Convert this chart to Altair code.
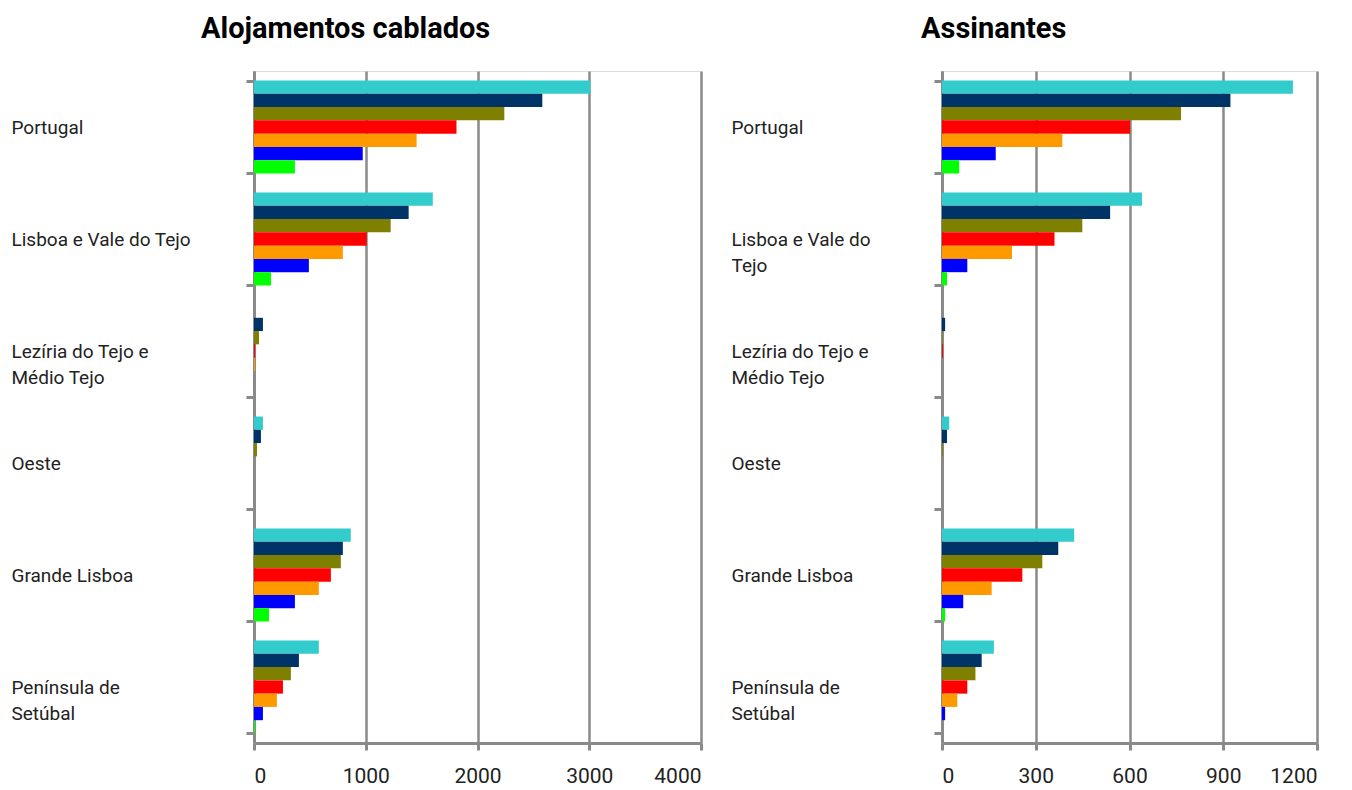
import altair as alt
import pandas as pd

# Categories (regions) and their displayed labels ("|" = line break)
categories = ["Portugal", "Lisboa e Vale do Tejo", "Lezíria do Tejo e Médio Tejo",
              "Oeste", "Grande Lisboa", "Península de Setúbal"]
left_labels = ["Portugal", "Lisboa e Vale do Tejo", "Lezíria do Tejo e|Médio  Tejo",
               "Oeste", "Grande Lisboa", "Península de|Setúbal"]
right_labels = ["Portugal", "Lisboa e Vale do|Tejo", "Lezíria do Tejo e|Médio Tejo",
                "Oeste", "Grande Lisboa", "Península de|Setúbal"]

# Series (top to bottom within each group)
series = ["Série 1", "Série 2", "Série 3", "Série 4", "Série 5", "Série 6", "Série 7"]
colors = ["#33CCCC", "#003366", "#808000", "#FF0000", "#FF9900", "#0000FF", "#00FF00"]

# Alojamentos cablados (one list per series, in category order)
aloj_s1 = [3010, 1600, 0, 80, 866, 580]
aloj_s2 = [2580, 1384, 80, 62, 795, 402]
aloj_s3 = [2240, 1223, 45, 27, 777, 330]
aloj_s4 = [1812, 1009, 10, 0, 688, 259]
aloj_s5 = [1455, 795, 10, 0, 580, 205]
aloj_s6 = [973, 491, 0, 0, 366, 80]
aloj_s7 = [366, 152, 0, 0, 134, 10]

# Assinantes
assi_s1 = [1123, 640, 0, 23, 423, 166]
assi_s2 = [923, 538, 10, 16, 372, 127]
assi_s3 = [765, 449, 2, 3, 321, 107]
assi_s4 = [602, 360, 3, 0, 257, 81]
assi_s5 = [385, 224, 0, 0, 159, 49]
assi_s6 = [172, 81, 0, 0, 68, 10]
assi_s7 = [55, 16, 0, 0, 10, 0]

left_ticks = [0, 1000, 2000, 3000, 4000]
right_ticks = [0, 300, 600, 900, 1200]

GRAY = "#8a8a8a"
LABEL_FONT = "Roboto"
PLOT_H = 672


def make_frame(labels, series_values):
    rows = []
    for s, vals in zip(series, series_values):
        for lab, cat, v in zip(labels, categories, vals):
            rows.append({"label": lab, "region": cat, "series": s, "value": v})
    return pd.DataFrame(rows)


def panel(labels, series_values, xmax, ticks, title, label_extent, width):
    df = make_frame(labels, series_values)
    return alt.Chart(df).mark_bar(cornerRadius=0).encode(
        y=alt.Y("label:N", sort=labels,
                scale=alt.Scale(paddingInner=0.17, paddingOuter=0.085),
                axis=alt.Axis(title=None, labelExpr="split(datum.label, '|')",
                              labelAlign="left", labelBaseline="middle",
                              labelPadding=label_extent - 8, tickSize=8,
                              tickBand="extent", tickWidth=3, tickColor=GRAY,
                              domainColor=GRAY, domainWidth=3, grid=False,
                              labelFont=LABEL_FONT, labelFontSize=19,
                              labelColor="#222222", labelLineHeight=26,
                              labelLimit=400)),
        yOffset=alt.YOffset("series:N", sort=series,
                            scale=alt.Scale(paddingInner=0, paddingOuter=0)),
        x=alt.X("value:Q", scale=alt.Scale(domain=[0, xmax], nice=False),
                axis=alt.Axis(title=None, values=ticks, format="d",
                              grid=True, gridColor=GRAY, gridWidth=2.5,
                              domainColor=GRAY, domainWidth=3,
                              tickColor=GRAY, tickWidth=3, tickSize=7,
                              labelPadding=15, labelFont=LABEL_FONT,
                              labelFontSize=21, labelColor="#222222")),
        color=alt.Color("series:N", scale=alt.Scale(domain=series, range=colors),
                        legend=None),
        tooltip=["region:N", "series:N", "value:Q"],
    ).properties(
        width=width, height=PLOT_H,
        title=alt.TitleParams(title, anchor="start", frame="bounds", dx=190,
                              font="Roboto", fontSize=29, fontWeight="bold",
                              color="#000000", offset=18),
    )


left = panel(left_labels,
             [aloj_s1, aloj_s2, aloj_s3, aloj_s4, aloj_s5, aloj_s6, aloj_s7],
             4000, left_ticks, "Alojamentos cablados", 243, 447)
right = panel(right_labels,
              [assi_s1, assi_s2, assi_s3, assi_s4, assi_s5, assi_s6, assi_s7],
              1200, right_ticks, "Assinantes", 211, 375)

chart = alt.hconcat(left, right, spacing=27).properties(
    padding={"left": 2, "top": 6, "right": 0, "bottom": 0}
).configure_view(stroke="transparent").configure(background="white")

chart.save("out.html", embed_options={"renderer": "svg", "actions": False})
